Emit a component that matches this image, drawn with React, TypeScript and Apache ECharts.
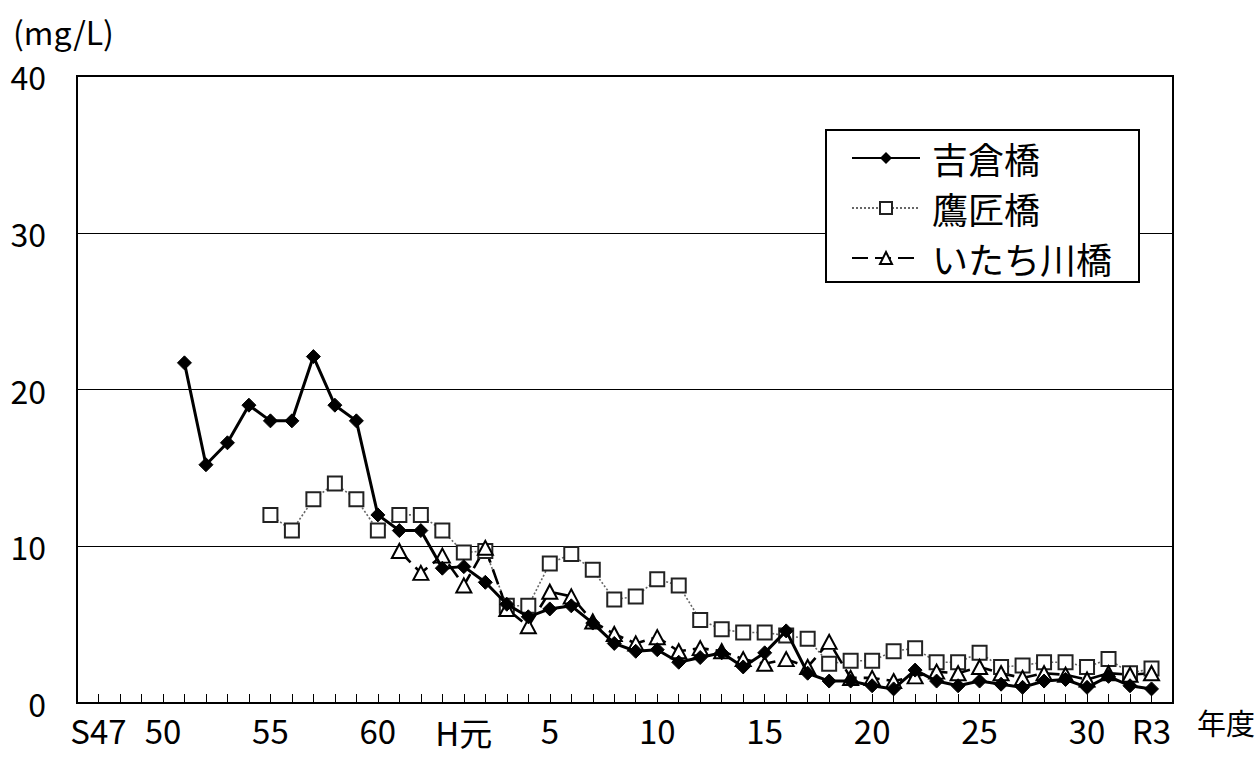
import React, { useEffect, useRef } from "react";
import * as echarts from "echarts";

// Fiscal years S47 .. R3
const years: string[] = [
  "S47", "S48", "S49", "S50", "S51", "S52", "S53", "S54", "S55", "S56", "S57", "S58", "S59", "S60", "S61", "S62", "S63",
  "H1", "H2", "H3", "H4", "H5", "H6", "H7", "H8", "H9", "H10", "H11", "H12", "H13", "H14", "H15", "H16", "H17", "H18", "H19", "H20",
  "H21", "H22", "H23", "H24", "H25", "H26", "H27", "H28", "H29", "H30", "R1", "R2", "R3",
];

// Tick labels shown under the axis (same order as years, "" = no label)
const yearLabels: string[] = [
  "S47", "", "", "50", "", "", "", "", "55", "", "", "", "", "60", "", "", "",
  "H元", "", "", "", "5", "", "", "", "", "10", "", "", "", "", "15", "", "", "", "", "20",
  "", "", "", "", "25", "", "", "", "", "30", "", "", "R3",
];

// 吉倉橋 from S51
const yoshikuraStart = "S51";
const yoshikura: number[] = [
  21.7, 15.2, 16.6, 19.0, 18.0, 18.0, 22.1, 19.0, 18.0, 12.0, 11.0, 11.0, 8.6,
  8.7, 7.7, 6.3, 5.5, 6.0, 6.2, 5.1, 3.8, 3.3, 3.4, 2.6, 2.9, 3.2, 2.3, 3.2, 4.6, 1.9, 1.4, 1.4, 1.1,
  0.9, 2.1, 1.4, 1.1, 1.4, 1.2, 1.0, 1.4, 1.5, 1.0, 1.7, 1.1, 0.9,
];

// 鷹匠橋 from S55
const takajoStart = "S55";
const takajo: number[] = [
  12.0, 11.0, 13.0, 14.0, 13.0, 11.0, 12.0, 12.0, 11.0,
  9.6, 9.7, 6.2, 6.2, 8.9, 9.5, 8.5, 6.6, 6.8, 7.9, 7.5, 5.3, 4.7, 4.5, 4.5, 4.3, 4.1, 2.5, 2.7, 2.7,
  3.3, 3.5, 2.6, 2.6, 3.2, 2.3, 2.4, 2.6, 2.6, 2.3, 2.8, 1.9, 2.2,
];

// いたち川橋 from S61
const itachiStart = "S61";
const itachi: number[] = [
  9.7, 8.3, 9.4,
  7.5, 9.9, 6.0, 4.9, 7.1, 6.8, 5.2, 4.4, 3.8, 4.2, 3.3, 3.5, 3.3, 2.8, 2.5, 2.8, 2.3, 3.9, 1.6, 1.6,
  1.4, 1.7, 2.0, 1.9, 2.3, 1.9, 1.6, 1.9, 1.8, 1.5, 1.9, 1.8, 1.9,
];

const seriesNames = ["吉倉橋", "鷹匠橋", "いたち川橋"];
const yTicks = [0, 10, 20, 30, 40];

const FONT = "'Noto Sans CJK JP', 'Noto Sans', sans-serif";

// categories with one empty slot on each side
const categories = ["_pre", ...years, "_post"];
const labels = ["", ...yearLabels, ""];

function place(start: string, values: number[]): (number | null)[] {
  const out: (number | null)[] = categories.map(() => null);
  const s = categories.indexOf(start);
  values.forEach((v, i) => {
    out[s + i] = v;
  });
  return out;
}

export default function App() {
  const ref = useRef<HTMLDivElement>(null);

  useEffect(() => {
    if (!ref.current) return;
    const chart = echarts.init(ref.current, undefined, { renderer: "svg" });
    const option: any = {
      animation: false,
      backgroundColor: "#fff",
      textStyle: { fontFamily: FONT, color: "#000" },
      grid: {
        left: 77,
        right: 87,
        top: 76,
        bottom: 55,
        show: true,
        borderColor: "#000",
        borderWidth: 2,
        containLabel: false,
      },
      legend: {
        orient: "vertical",
        left: 826,
        top: 130,
        data: seriesNames,
        borderColor: "#000",
        borderWidth: 2,
        backgroundColor: "#fff",
        padding: [10, 27, 6, 25],
        itemGap: 14,
        itemWidth: 68,
        itemHeight: 15,
        textStyle: {
          fontSize: 36,
          lineHeight: 36,
          fontFamily: FONT,
          color: "#000",
          padding: [0, 0, 0, 7],
        },
      },
      xAxis: {
        type: "category",
        data: categories,
        boundaryGap: false,
        axisLine: { show: true, lineStyle: { color: "#000", width: 2 } },
        axisTick: {
          show: true,
          inside: true,
          length: 9,
          interval: 0,
          lineStyle: { color: "#000", width: 1 },
        },
        axisLabel: {
          interval: 0,
          fontSize: 33,
          lineHeight: 33,
          margin: 10,
          color: "#000",
          fontFamily: FONT,
          formatter: (_v: string, i: number) => {
            const t = labels[i] || "";
            if (t === "H元") return "{h|H元}";
            return t;
          },
          rich: {
            h: { fontSize: 33, lineHeight: 33, fontFamily: FONT, color: "#000", padding: [5, 0, 0, 0] },
          },
        },
        splitLine: { show: false },
      },
      yAxis: {
        type: "value",
        min: yTicks[0],
        max: yTicks[yTicks.length - 1],
        interval: 10,
        axisLine: { show: false },
        axisTick: { show: false },
        axisLabel: { fontSize: 32, margin: 31, color: "#000", fontFamily: FONT },
        splitLine: { show: true, lineStyle: { color: "#000", width: 1 } },
      },
      graphic: [
        {
          type: "text",
          left: 13,
          top: 15,
          style: { text: "(mg/L)", fontSize: 32, fontFamily: FONT, fill: "#000" },
        },
        {
          type: "text",
          x: 1226,
          y: 722,
          style: {
            text: "年度",
            fontSize: 29,
            fontFamily: FONT,
            fill: "#000",
            align: "center",
            verticalAlign: "middle",
          },
        },
      ],
      series: [
        {
          name: seriesNames[0],
          type: "line",
          data: place(yoshikuraStart, yoshikura),
          symbol: "diamond",
          symbolSize: 14,
          lineStyle: { color: "#000", width: 3 },
          itemStyle: { color: "#000", borderColor: "#000" },
          connectNulls: false,
          z: 3,
        },
        {
          name: seriesNames[1],
          type: "line",
          data: place(takajoStart, takajo),
          symbol: "rect",
          symbolSize: 14,
          lineStyle: { color: "#666", width: 1.6, type: [2, 2] },
          itemStyle: { color: "#fff", borderColor: "#222", borderWidth: 2 },
          z: 2,
        },
        {
          name: seriesNames[2],
          type: "line",
          data: place(itachiStart, itachi),
          symbol: "triangle",
          symbolSize: [15, 14],
          lineStyle: { color: "#000", width: 2.6, type: [16, 7] },
          itemStyle: { color: "#fff", borderColor: "#000", borderWidth: 2 },
          z: 2,
        },
      ],
    };
    chart.setOption(option);
    return () => {
      chart.dispose();
    };
  }, []);

  return (
    <div
      ref={ref}
      style={{ position: "fixed", left: 0, top: 0, width: 1260, height: 758, background: "#fff" }}
    />
  );
}
